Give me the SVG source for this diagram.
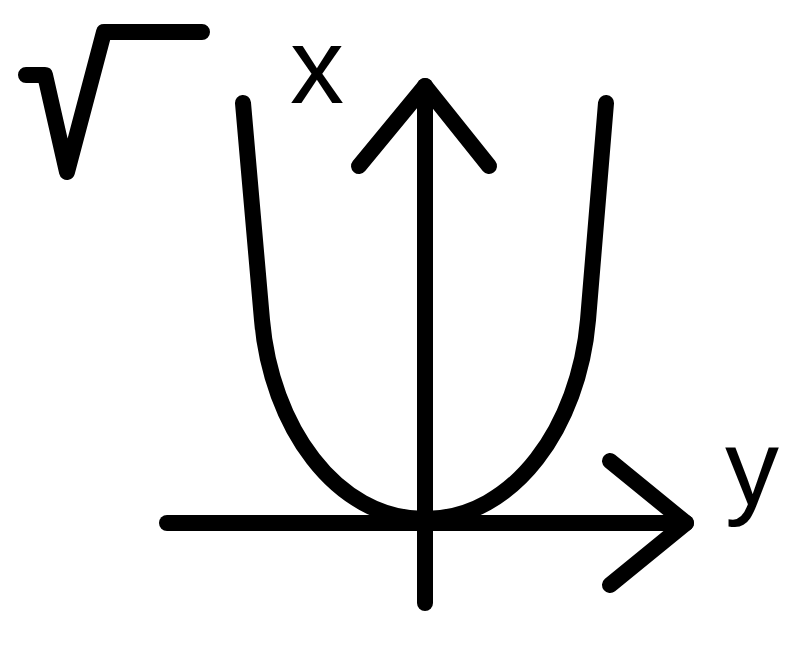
<svg xmlns="http://www.w3.org/2000/svg" width="812" height="655" viewBox="0 0 812 655">
  <style>
    .stk { fill: none; stroke: #000; stroke-width: 16; stroke-linecap: round; stroke-linejoin: round; }
    .lbl { font-family: "Liberation Sans", Arial, sans-serif; font-size: 108px; fill: #000; }
  </style>
  <rect width="812" height="655" fill="#fff"/>
  <g id="sqrt">
    <path class="stk" d="M26,75 L45,75 L67,172 L104,32 L202,32"/>
  </g>
  <g id="curve">
    <path class="stk" d="M243,103 L262,320 C271,425 335,519 425,519 C515,519 579,425 588,320 L606,103"/>
  </g>
  <g id="axes">
    <path class="stk" d="M425,603 L425,86"/>
    <path class="stk" d="M359,166 L425,86 L489,166"/>
    <path class="stk" d="M167,523 L686,523"/>
    <path class="stk" d="M610,461 L686,523 L610,585"/>
  </g>
  <g id="labels">
    <text class="lbl" x="290" y="103">x</text>
    <text class="lbl" x="725" y="505">y</text>
  </g>
</svg>
